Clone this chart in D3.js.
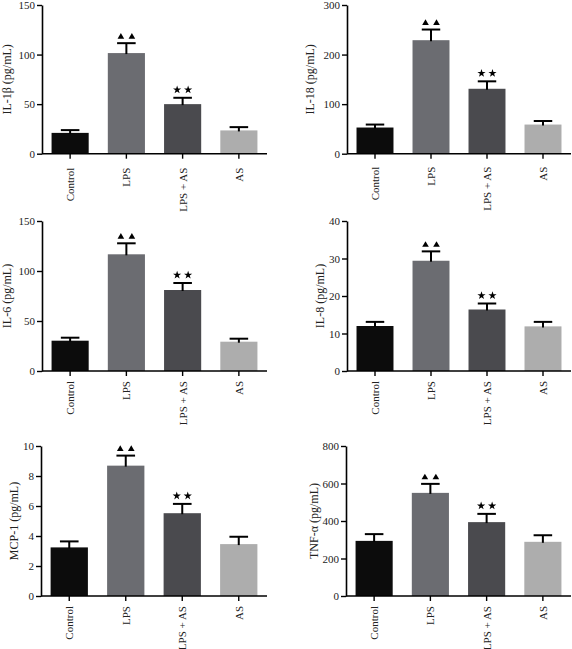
<!DOCTYPE html>
<html><head><meta charset="utf-8">
<script src="https://cdn.jsdelivr.net/npm/d3@7"></script>
<style>
html,body{margin:0;padding:0;background:#fff;}
svg{display:block;}
text{font-family:"Liberation Serif","Times New Roman",serif;fill:#222;}
</style></head>
<body>
<script>
// ---- data ----
const categories = ["Control", "LPS", "LPS + AS", "AS"];
const il1bMean = [21, 101.5, 50, 23.5];
const il1bErr  = [2.8, 10, 6.4, 3.3];
const il18Mean = [52.8, 229, 131, 58.8];
const il18Err  = [6, 21.5, 15, 7.2];
const il6Mean  = [30.3, 116.7, 81, 29.3];
const il6Err   = [3, 11, 7, 3];
const il8Mean  = [12, 29.4, 16.4, 11.9];
const il8Err   = [1.1, 2.5, 1.6, 1.2];
const mcp1Mean = [3.24, 8.69, 5.52, 3.46];
const mcp1Err  = [0.4, 0.67, 0.62, 0.49];
const tnfMean  = [294, 550, 394, 289];
const tnfErr   = [36, 48, 44, 35];
const il1bTicks = [0, 50, 100, 150];
const il18Ticks = [0, 100, 200, 300];
const il6Ticks  = [0, 50, 100, 150];
const il8Ticks  = [0, 10, 20, 30, 40];
const mcp1Ticks = [0, 2, 4, 6, 8, 10];
const tnfTicks  = [0, 200, 400, 600, 800];
const yLabels = ["IL-1β (pg/mL)", "IL-18 (pg/mL)", "IL-6 (pg/mL)", "IL-8 (pg/mL)", "MCP-1 (pg/mL)", "TNF-α (pg/mL)"];
const marks = ["", "tri", "star", ""];   // significance markers per group
const barColors = ["#0c0c0c", "#6b6c71", "#4a4a4e", "#adadad"];

// ---- layout ----
const W = 572, H = 649;
const panels = [
  {mean: il1bMean, err: il1bErr, ticks: il1bTicks, label: yLabels[0], x0: 42,  x1: 267, yT: 5,    yB: 153.7, lab: -31, gap: 14},
  {mean: il18Mean, err: il18Err, ticks: il18Ticks, label: yLabels[1], x0: 347, x1: 571, yT: 5,    yB: 153.7, lab: -33, gap: 13},
  {mean: il6Mean,  err: il6Err,  ticks: il6Ticks,  label: yLabels[2], x0: 42,  x1: 267, yT: 221,  yB: 371,   lab: -31, gap: 10},
  {mean: il8Mean,  err: il8Err,  ticks: il8Ticks,  label: yLabels[3], x0: 347, x1: 571, yT: 221,  yB: 371,   lab: -23, gap: 10},
  {mean: mcp1Mean, err: mcp1Err, ticks: mcp1Ticks, label: yLabels[4], x0: 41,  x1: 267, yT: 446,  yB: 596,   lab: -23, gap: 10},
  {mean: tnfMean,  err: tnfErr,  ticks: tnfTicks,  label: yLabels[5], x0: 346, x1: 571, yT: 446,  yB: 596,   lab: -28, gap: 10}
];

const svg = d3.select("body").append("svg").attr("width", W).attr("height", H);
svg.append("rect").attr("width", W).attr("height", H).attr("fill", "#fff");

panels.forEach(p => {
  const g = svg.append("g");
  const x = d3.scaleBand().domain(categories).range([p.x0, p.x1]).paddingInner(0.34).paddingOuter(0.17);
  const y = d3.scaleLinear().domain([0, d3.max(p.ticks)]).range([p.yB, p.yT]);

  // bars
  g.selectAll("rect.bar").data(categories).join("rect")
    .attr("x", d => x(d)).attr("width", x.bandwidth())
    .attr("y", (d, i) => y(p.mean[i]))
    .attr("height", (d, i) => p.yB - y(p.mean[i]))
    .attr("fill", (d, i) => barColors[i]);

  // error bars
  const capW = x.bandwidth() * 0.5;
  categories.forEach((c, i) => {
    const cx = x(c) + x.bandwidth() / 2;
    const top = y(p.mean[i] + p.err[i]);
    g.append("line").attr("x1", cx).attr("x2", cx).attr("y1", y(p.mean[i]) + 1).attr("y2", top)
      .attr("stroke", "#000").attr("stroke-width", 2);
    g.append("line").attr("x1", cx - capW / 2).attr("x2", cx + capW / 2).attr("y1", top).attr("y2", top)
      .attr("stroke", "#000").attr("stroke-width", 2);
    if (marks[i]) {
      const type = marks[i] === "tri" ? d3.symbolTriangle : d3.symbolStar;
      const size = marks[i] === "tri" ? 19 : 21;
      let cy;
      if (marks[i] === "tri") {
        const r = Math.sqrt(size / (3 * Math.sqrt(3)));
        cy = top - 4.5 - r;
      } else {
        const r = Math.sqrt(size * 0.89081309152928522810);
        cy = top - 4.5 - r * Math.cos(Math.PI / 5);
      }
      [-5.5, 5.5].forEach(dx => {
        g.append("path").attr("d", d3.symbol().type(type).size(size)())
          .attr("transform", `translate(${cx + dx},${cy})`).attr("fill", "#000");
      });
    }
  });

  // y axis
  const ya = g.append("g").attr("transform", `translate(${p.x0},0)`)
    .call(d3.axisLeft(y).tickValues(p.ticks).tickSize(5).tickPadding(2).tickSizeOuter(0));
  ya.select(".domain").attr("stroke", "#000").attr("stroke-width", 1.6);
  ya.selectAll(".tick line").attr("stroke", "#000").attr("stroke-width", 1.4);
  ya.selectAll(".tick text").attr("font-size", 11).attr("font-family", "Liberation Serif").attr("fill", "#222");

  // x axis
  const xa = g.append("g").attr("transform", `translate(0,${p.yB})`)
    .call(d3.axisBottom(x).tickSize(5).tickSizeOuter(0).tickFormat(""));
  xa.select(".domain").attr("stroke", "#000").attr("stroke-width", 1.6)
    .attr("d", `M${p.x0},0H${p.x1}`);
  xa.selectAll(".tick line").attr("stroke", "#000").attr("stroke-width", 1.4);

  // category labels (rotated)
  categories.forEach(c => {
    const cx = x(c) + x.bandwidth() / 2;
    g.append("text").attr("transform", `translate(${cx + 4},${p.yB + p.gap}) rotate(-90)`)
      .attr("text-anchor", "end").attr("font-size", 11).text(c);
  });

  // y label
  g.append("text").attr("transform", `translate(${p.x0 + p.lab},${(p.yT + p.yB) / 2}) rotate(-90)`)
    .attr("text-anchor", "middle").attr("font-size", 12).text(p.label);
});
</script>
</body></html>
